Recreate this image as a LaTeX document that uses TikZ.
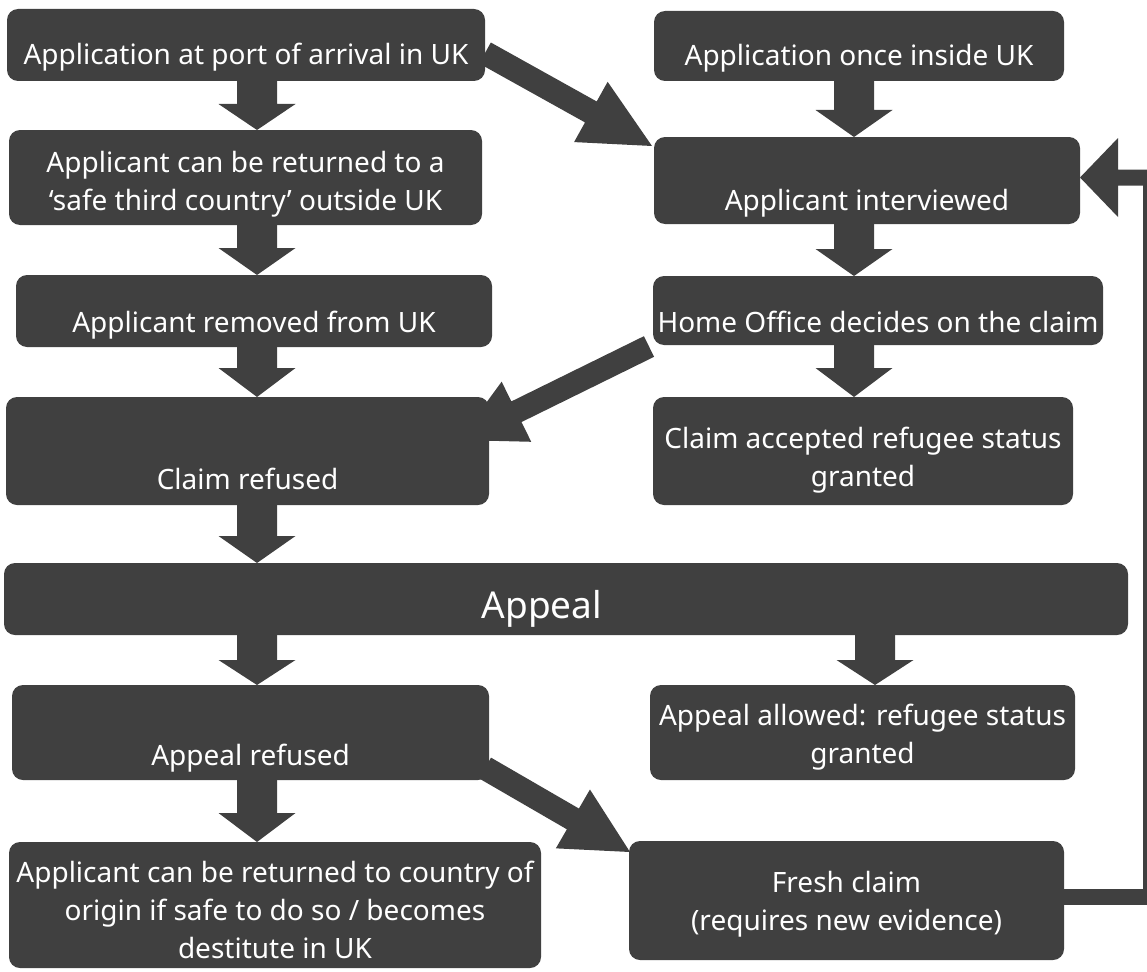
\documentclass[tikz,border=0pt]{standalone}
\usepackage{fontspec}
\setmainfont{Noto Sans}
\usetikzlibrary{calc}
\definecolor{boxgray}{HTML}{404040}
\tikzset{
  box/.style={rectangle, fill=boxgray, rounded corners=11pt, inner sep=0pt, outer sep=0pt},
  txt/.style={text=white, font=\fontsize{28}{38}\selectfont, align=center, anchor=base, inner sep=0pt},
  arr/.style={fill=boxgray},
  % fat block arrow: shaft width, head width, head length
  blk/.style n args={3}{to path={let \p1=(\tikztostart), \p2=(\tikztotarget),
      \n1={atan2(\y2-\y1,\x2-\x1)}, \n2={veclen(\x2-\x1,\y2-\y1)} in
      ($(\p1)+({\n1+90}:{#1/2})$) -- ++({\n1}:{\n2-#3}) -- ++({\n1+90}:{(#2-#1)/2}) -- (\p2)
      -- ($(\p1)+({\n1}:{\n2-#3})+({\n1-90}:{#2/2})$) -- ++({\n1+90}:{(#2-#1)/2})
      -- ($(\p1)+({\n1-90}:{#1/2})$) -- cycle}},
}
\begin{document}
\begin{tikzpicture}[x=1pt, y=1pt]
\useasboundingbox (0,0) rectangle (1147,-971);
% boxes
\node[box, minimum width=478, minimum height=72] (port) at (246,-45) {};
\node[box, minimum width=410, minimum height=70] (inside) at (859,-46) {};
\node[box, minimum width=473, minimum height=95] (safe) at (245.5,-177.5) {};
\node[box, minimum width=426, minimum height=87] (interview) at (867,-180.5) {};
\node[box, minimum width=476, minimum height=72] (removed) at (254,-311) {};
\node[box, minimum width=450, minimum height=69] (homeoff) at (878,-310.5) {};
\node[box, minimum width=483, minimum height=108] (claimref) at (247.5,-451) {};
\node[box, minimum width=420, minimum height=108] (accepted) at (863,-451) {};
\node[box, minimum width=1124, minimum height=72] (appeal) at (566,-599) {};
\node[box, minimum width=477, minimum height=95] (apprefused) at (250.5,-732.5) {};
\node[box, minimum width=425, minimum height=95] (allowed) at (862.5,-732.5) {};
\node[box, minimum width=532, minimum height=126] (returned) at (275,-905) {};
\node[box, minimum width=435, minimum height=119] (fresh) at (846.5,-900.5) {};
% texts (base = last line)
\node[txt] (port-t) at (246,-65) {Application at port of arrival in UK};
\node[txt] (inside-t) at (859,-66) {Application once inside UK};
\node[txt] (safe-t) at (245.5,-210) {Applicant can be returned to a\\‘safe third country’ outside UK};
\node[txt] (interview-t) at (867,-210) {Applicant interviewed};
\node[txt] (removed-t) at (254,-332) {Applicant removed from UK};
\node[txt] (homeoff-t) at (878,-332) {Home Office decides on the claim};
\node[txt] (claimref-t) at (247.5,-489) {Claim refused};
\node[txt] (accepted-t) at (863,-486) {Claim accepted refugee status\\granted};
\node[txt, font=\fontsize{37}{44}\selectfont] (appeal-t) at (542,-618) {Appeal};
\node[txt] (apprefused-t) at (250.5,-765) {Appeal refused};
\node[txt] (allowed-t) at (862.5,-763) {Appeal allowed: refugee status\\granted};
\node[txt] (returned-t) at (275,-958) {Applicant can be returned to country of\\origin if safe to do so / becomes\\destitute in UK};
\node[txt] (fresh-t) at (846.5,-930) {Fresh claim\\(requires new evidence)};
% arrow columns
\coordinate (lc) at (257,0);
\coordinate (rc) at (854,0);
\coordinate (ac) at (875,0);
\coordinate (rt) at (1151,-177.5);
% straight arrows
\path[arr] (port.south -| lc) to[blk={40}{77}{26}] (safe.north -| lc);
\path[arr] (safe.south -| lc) to[blk={40}{77}{27}] (removed.north -| lc);
\path[arr] (removed.south -| lc) to[blk={40}{77}{29}] (claimref.north -| lc);
\path[arr] (claimref.south -| lc) to[blk={40}{77}{27}] (appeal.north -| lc);
\path[arr] (appeal.south -| lc) to[blk={40}{77}{25}] (apprefused.north -| lc);
\path[arr] (apprefused.south -| lc) to[blk={40}{77}{29}] (returned.north -| lc);
\path[arr] (inside.south -| rc) to[blk={40}{77}{27}] (interview.north -| rc);
\path[arr] (interview.south -| rc) to[blk={40}{77}{27}] (homeoff.north -| rc);
\path[arr] (homeoff.south -| rc) to[blk={40}{77}{29}] (accepted.north -| rc);
\path[arr] (appeal.south -| ac) to[blk={40}{77}{25}] (allowed.north -| ac);
% slanted arrows
\path[arr] ([yshift=-8]port.east) to[blk={24}{69}{70}] ([shift={(-2,-9)}]interview.north west);
\path[arr] ([shift={(-4,-1.5)}]homeoff.south west) to[blk={23}{67}{64}] ([shift={(-30,11)}]claimref.east);
\path[arr] ([shift={(-4,12)}]apprefused.south east) to[blk={24}{68}{66}] ([shift={(1,-11)}]fresh.north west);
% back to the interview
\draw[boxgray, line width=16pt] ([yshift=3.5]fresh.east) -| (rt);
\path[arr] (rt) to[blk={16}{79}{38}] ([yshift=3]interview.east);
\end{tikzpicture}
\end{document}
